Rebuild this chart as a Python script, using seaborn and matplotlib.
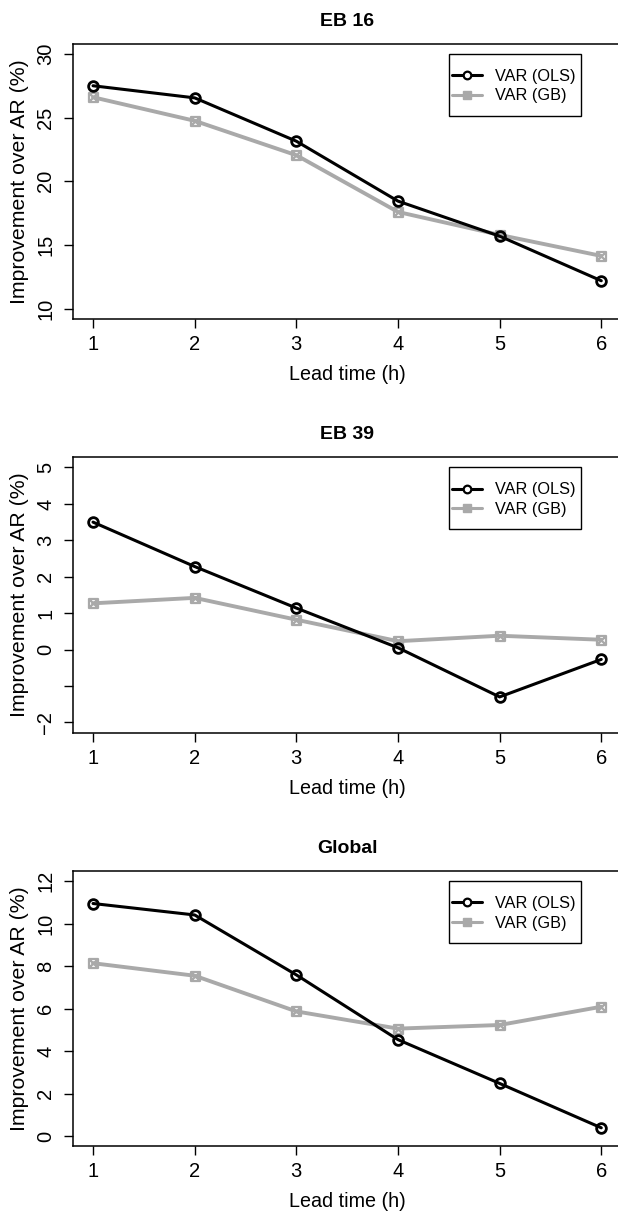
import matplotlib
matplotlib.use("Agg")
import matplotlib.pyplot as plt
import seaborn as sns
import pandas as pd
from matplotlib.path import Path
from matplotlib.lines import Line2D
from matplotlib.patches import Rectangle

# data
lead_time = [1, 2, 3, 4, 5, 6]
titles = ["EB 16", "EB 39", "Global"]
models = ["VAR (OLS)", "VAR (GB)"]

ols_eb16 = [27.5, 26.55, 23.15, 18.45, 15.7, 12.2]
gb_eb16 = [26.6, 24.75, 22.05, 17.6, 15.8, 14.15]
ols_eb39 = [3.5, 2.28, 1.14, 0.05, -1.3, -0.27]
gb_eb39 = [1.27, 1.42, 0.82, 0.23, 0.38, 0.27]
ols_global = [10.95, 10.41, 7.59, 4.54, 2.48, 0.39]
gb_global = [8.14, 7.55, 5.87, 5.06, 5.23, 6.09]

yticks = [[10, 15, 20, 25, 30], [-2, -1, 0, 1, 2, 3, 4, 5], [0, 2, 4, 6, 8, 10, 12]]
ytick_labels = [["10", "15", "20", "25", "30"],
                ["\u22122", "", "0", "1", "2", "3", "4", "5"],
                ["0", "2", "4", "6", "8", "10", "12"]]

series = [(ols_eb16, gb_eb16), (ols_eb39, gb_eb39), (ols_global, gb_global)]

sns.set_style("ticks")
plt.rcParams['font.family'] = ['Liberation Sans', 'DejaVu Sans']
plt.rcParams['text.color'] = 'black'
plt.rcParams['axes.labelcolor'] = 'black'
plt.rcParams['xtick.color'] = 'black'
plt.rcParams['ytick.color'] = 'black'

# R-like square with a cross inside (pch = 7)
sq_cross = Path([(-1, -1), (1, -1), (1, 1), (-1, 1), (-1, -1),
                 (-1, -1), (1, 1), (-1, 1), (1, -1)],
                [Path.MOVETO, Path.LINETO, Path.LINETO, Path.LINETO, Path.CLOSEPOLY,
                 Path.MOVETO, Path.LINETO, Path.MOVETO, Path.LINETO])

colors = {"VAR (OLS)": "black", "VAR (GB)": "#a9a9a9"}
styles = {"VAR (OLS)": dict(marker="o", linewidth=2.2, markersize=7, markeredgewidth=2.0),
          "VAR (GB)": dict(marker=sq_cross, linewidth=2.8, markersize=6.5, markeredgewidth=1.6)}

W, H = 618, 1215
fig = plt.figure(figsize=(W / 100, H / 100), dpi=100)
tops = [43.7, 457.3, 871.0]
ax_h = 275.3
left_px, right_px = 72.7, 621.6
ax_w = right_px - left_px

for i, (title, (ols, gb)) in enumerate(zip(titles, series)):
    top = tops[i]
    ax = fig.add_axes([left_px / W, 1 - (top + ax_h) / H, ax_w / W, ax_h / H])
    df = pd.DataFrame({"lead": lead_time * 2,
                       "value": ols + gb,
                       "model": [models[0]] * 6 + [models[1]] * 6})
    for m in models[::-1]:
        sns.lineplot(data=df[df.model == m], x="lead", y="value", color=colors[m],
                     markerfacecolor="none", markeredgecolor=colors[m],
                     legend=False, ax=ax, **styles[m])

    lo, hi = yticks[i][0], yticks[i][-1]
    ext = 0.04 * (hi - lo)
    ax.set_ylim(lo - ext, hi + ext)
    ax.set_xlim(0.8, 6.2)
    ax.set_xticks(lead_time)
    ax.set_yticks(yticks[i])
    ax.set_yticklabels(ytick_labels[i], rotation=90, va="center")
    ax.tick_params(axis="both", direction="out", length=6.5, width=1.0,
                   labelsize=14.5, color="black", pad=5)
    ax.tick_params(axis="y", pad=6)
    for s in ax.spines.values():
        s.set_visible(True)
        s.set_linewidth(1.1)
        s.set_color("black")
    ax.set_xlabel("Lead time (h)", fontsize=14.2, labelpad=8)
    ax.set_ylabel("Improvement over AR (%)", fontsize=15.3, labelpad=5)
    ax.set_title(title, fontsize=14, fontweight="bold", pad=13)

    # legend, R style: box from x = 4.5 at the top tick
    top_frac = (hi - (lo - ext)) / ((hi + ext) - (lo - ext))
    box_x = (4.5 - 0.8) / 5.4
    box_w, box_h = 132 / ax_w, 62 / ax_h
    ax.add_patch(Rectangle((box_x, top_frac - box_h), box_w, box_h, transform=ax.transAxes,
                           facecolor="white", edgecolor="black", linewidth=1.0,
                           clip_on=False, zorder=5))
    handles = [Line2D([], [], color="black", lw=2.2, marker="o", markersize=5.5,
                      markerfacecolor="white", markeredgecolor="black", markeredgewidth=1.6),
               Line2D([], [], color="#a9a9a9", lw=2.2, marker="s", markersize=6)]
    leg = ax.legend(handles, models, loc="center left",
                    bbox_to_anchor=(box_x, top_frac - 32.2 / ax_h),
                    borderaxespad=0, fontsize=11.7, frameon=False, handlelength=1.85,
                    handletextpad=0.8, borderpad=0.2, labelspacing=0.28)
    leg.set_zorder(6)

fig.savefig("out.png", dpi=100)
